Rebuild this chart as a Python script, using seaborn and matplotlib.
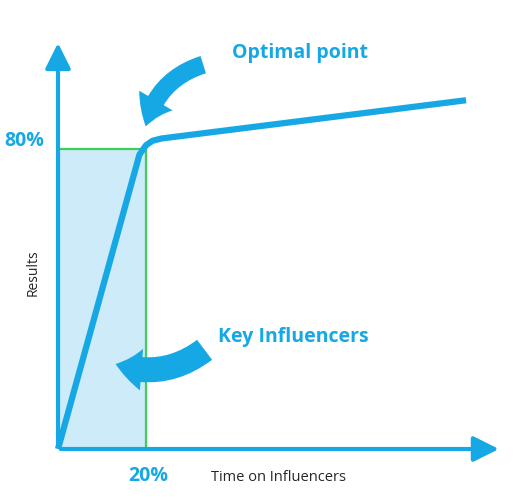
import numpy as np
import pandas as pd
import matplotlib
matplotlib.use("Agg")
import matplotlib.pyplot as plt
import seaborn as sns
from matplotlib.patches import FancyArrowPatch, Rectangle

# curve of results vs time spent on influencers (percent)
time_pct = [0, 18.5, 20.0, 21.5, 23.5, 92.7]
result_pct = [0, 78.5, 81.0, 82.2, 82.8, 93.0]
key_time = 20
key_result = 80
labels = {"x": "Time on Influencers", "y": "Results",
          "opt": "Optimal point", "key": "Key Influencers"}

blue = "#16a8e5"
sns.set_style("white")
plt.rcParams["font.family"] = ["Open Sans", "DejaVu Sans"]

fig = plt.figure(figsize=(5.14, 4.99), dpi=100)
ax = fig.add_axes([0, 0, 1, 1])
ax.set_xlim(-13.18, 103.6)
ax.set_ylim(-13.33, 119.73)
ax.axis("off")

# shaded area up to the key point
ax.add_patch(Rectangle((0, 0), key_time, key_result, color="#cdebf9", lw=0, zorder=1))
ax.plot([0, key_time, key_time], [key_result, key_result, 0], color="#3ccf5a", lw=1.6, zorder=2)

# axes with arrow heads
ax.annotate("", xy=(0, 109), xytext=(0, 0),
            arrowprops=dict(arrowstyle="-|>,head_width=0.55,head_length=1.1", color=blue, lw=3, mutation_scale=14))
ax.annotate("", xy=(100.8, 0), xytext=(0, 0),
            arrowprops=dict(arrowstyle="-|>,head_width=0.55,head_length=1.1", color=blue, lw=3, mutation_scale=14))

df = pd.DataFrame({"t": time_pct, "r": result_pct})
sns.lineplot(data=df, x="t", y="r", color=blue, lw=4.5, ax=ax, zorder=3,
             solid_capstyle="butt", solid_joinstyle="round")

# curved pointer arrows
ax.add_patch(FancyArrowPatch((33.6, 102.7), (19.8, 85.3), connectionstyle="arc3,rad=0.3",
             arrowstyle="simple,tail_width=1.3,head_width=2.8,head_length=2.0",
             mutation_scale=10, color=blue, lw=0, zorder=4))
ax.add_patch(FancyArrowPatch((33.8, 26.9), (12.5, 22.9), connectionstyle="arc3,rad=-0.28",
             arrowstyle="simple,tail_width=1.8,head_width=3.0,head_length=1.9",
             mutation_scale=10, color=blue, lw=0, zorder=4))

bold = dict(color=blue, fontweight="bold", fontsize=14)
ax.text(-7.6, key_result + 2.1, f"{key_result}%", ha="center", va="center", **bold)
ax.text(key_time + 0.5, -7.2, f"{key_time}%", ha="center", va="center", **bold)
ax.text(55, 105.5, labels["opt"], ha="center", va="center", **bold)
ax.text(53.5, 29.8, labels["key"], ha="center", va="center", **bold)
ax.text(50, -7.7, labels["x"], ha="center", va="center", fontsize=10.5)
ax.text(-5.7, 47, labels["y"], ha="center", va="center", rotation=90, fontsize=10)

fig.savefig("out.png", dpi=100)
